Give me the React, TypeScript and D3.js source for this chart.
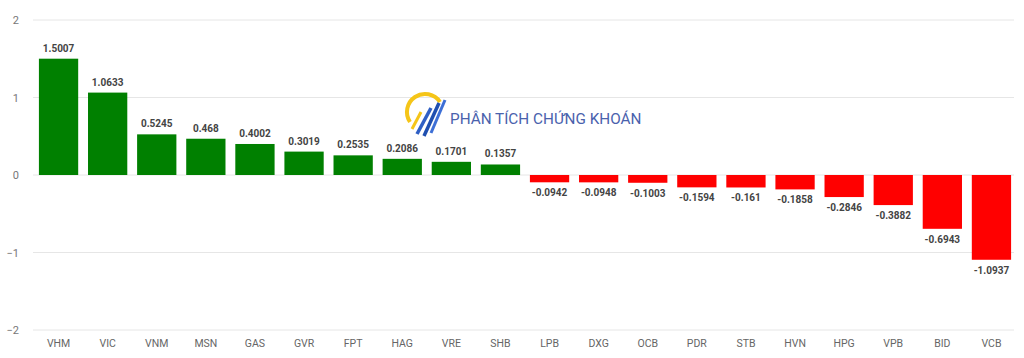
import React from "react";
import * as d3 from "d3";

const categories = ["VHM","VIC","VNM","MSN","GAS","GVR","FPT","HAG","VRE","SHB","LPB","DXG","OCB","PDR","STB","HVN","HPG","VPB","BID","VCB"];
const values = [1.5007,1.0633,0.5245,0.468,0.4002,0.3019,0.2535,0.2086,0.1701,0.1357,-0.0942,-0.0948,-0.1003,-0.1594,-0.161,-0.1858,-0.2846,-0.3882,-0.6943,-1.0937];
const labels = ["1.5007","1.0633","0.5245","0.468","0.4002","0.3019","0.2535","0.2086","0.1701","0.1357","-0.0942","-0.0948","-0.1003","-0.1594","-0.161","-0.1858","-0.2846","-0.3882","-0.6943","-1.0937"];
const yTicks = [2, 1, 0, -1, -2];
const yTickLabels = ["2", "1", "0", "\u22121", "\u22122"];

export default function App() {
  const W = 1024, H = 358;
  const x = d3.scaleBand<string>().domain(categories).range([34, 1016]).paddingInner(0.2).paddingOuter(0.1);
  const y = d3.scaleLinear().domain([-2, 2]).range([330, 20]);
  const bw = x.bandwidth();
  return (
    <svg width={W} height={H} style={{ position: "absolute", left: 0, top: 0, background: "#fff" }} fontFamily="Roboto, 'Noto Sans', sans-serif">
      {yTicks.map((t, i) => (
        <g key={t}>
          <line x1={33} x2={1014} y1={y(t)} y2={y(t)} stroke="#e6e6e6" strokeWidth={1} />
          <text x={19} y={y(t) + 4} textAnchor="end" fontSize={11} fill="#777">{yTickLabels[i]}</text>
        </g>
      ))}
      {/* watermark */}
      <g>
        <path d="M 410 122 A 17 17 0 0 1 440 102" fill="none" stroke="#f5c518" strokeWidth={4} />
        <path d="M 412 129 L 421 112" stroke="#f5c518" strokeWidth={3} />
        <path d="M 417 134 L 431 108" stroke="#2f5fc4" strokeWidth={3.5} />
        <path d="M 424 136 L 439 103" stroke="#1f4fb0" strokeWidth={3.5} />
        <path d="M 431 133 L 445 100" stroke="#3d6fd6" strokeWidth={3} />
        <text x={450} y={124} fontSize={15.3} fill="#4a62ad" fontFamily="Roboto, sans-serif">PHÂN TÍCH CHỨNG KHOÁN</text>
      </g>
      {categories.map((c, i) => {
        const v = values[i];
        const x0 = x(c) as number;
        const top = v >= 0 ? y(v) : y(0);
        const h = Math.abs(y(v) - y(0));
        return (
          <g key={c}>
            <rect x={x0} y={top} width={bw} height={h} fill={v >= 0 ? "#008000" : "#ff0000"} />
            <text x={x0 + bw / 2} y={v >= 0 ? y(v) - 7 : y(v) + 14} textAnchor="middle" fontSize={10} fontWeight="bold" fill="#444">{labels[i]}</text>
            <text x={x0 + bw / 2} y={347} textAnchor="middle" fontSize={10.5} fill="#666">{c}</text>
          </g>
        );
      })}
    </svg>
  );
}
